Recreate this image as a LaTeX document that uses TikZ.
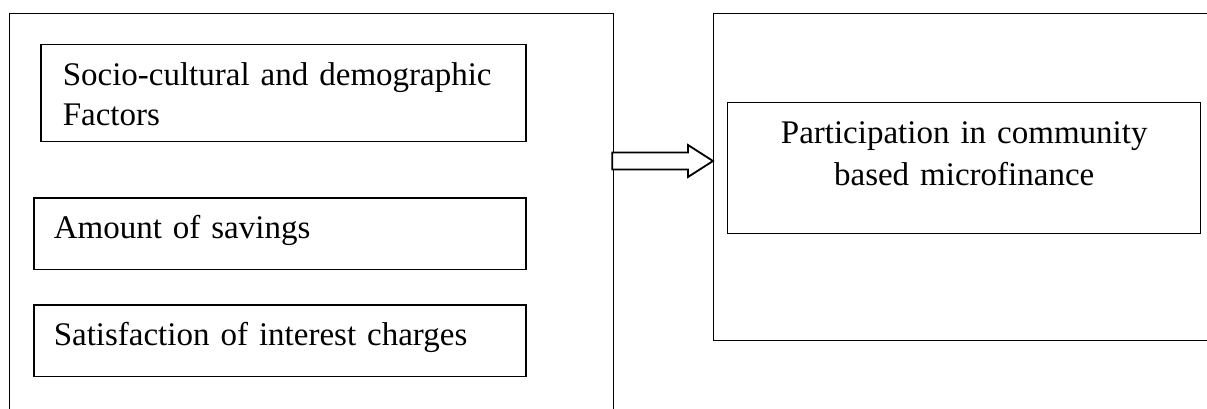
\documentclass[tikz,border=0pt]{standalone}
\usepackage{fontspec}
\setmainfont{Liberation Serif}
\usetikzlibrary{positioning,calc}

\begin{document}
\begin{tikzpicture}[
    x=1pt, y=1pt,
    % 外框样式
    outer style/.style={
        rectangle,           % 矩形
        draw,                % 绘制边框
        line width=1.2pt,    % 细线
        inner sep=0pt,       % 内部填充为0
        anchor=north west    % 左上角定位
    },
    % 因素框样式
    factor style/.style={
        rectangle,           % 矩形
        draw,
        line width=1.5pt,
        anchor=north west,
        align=left,          % 左对齐
        inner ysep=17.5pt,
        text height=23pt,
        font=\fontsize{33}{40}\selectfont
    },
    % 结果框样式
    result style/.style={
        rectangle,
        draw,
        line width=1.4pt,
        anchor=north west,
        align=center,        % 居中
        inner ysep=17.5pt,
        text height=23pt,
        font=\fontsize{33}{42}\selectfont
    },
    % 空心箭头样式
    block arrow style/.style={
        draw,
        fill=white,
        line width=1.8pt,
        line join=miter
    }
]

% 画布范围
\clip (0,0) rectangle (1207,408);

% 左侧外框 (下边超出画面)
\node[outer style, minimum width=604pt, minimum height=415pt] (context) at (9,395) {};
% 右侧外框 (右边超出画面)
\node[outer style, minimum width=517pt, minimum height=327pt] (frame) at (713,395) {};

% 自变量
\node[factor style, text width=441pt, inner xsep=22pt, text depth=38.5pt] (socio) at (40,364)
    {Socio-cultural and demographic\\Factors};
\node[factor style, text width=452pt, inner xsep=20pt, text depth=13.5pt] (savings) at (33,211)
    {Amount of savings};
\node[factor style, text width=452pt, inner xsep=20pt, text depth=13.5pt, below=34pt of savings] (interest)
    {Satisfaction of interest charges};

% 因变量
\node[result style, text width=433pt, inner xsep=20pt, text depth=72.5pt] (participation) at (727,306)
    {Participation in community\\based microfinance};

% 箭头
\coordinate (level) at (0,247);
\coordinate (tail) at (context.east |- level);
\coordinate (tip) at (frame.west |- level);
\draw[block arrow style] ([xshift=-2pt,yshift=8.5pt]tail) -- ([xshift=-25pt,yshift=8.5pt]tip)
    -- ([xshift=-25pt,yshift=16pt]tip) -- (tip) -- ([xshift=-25pt,yshift=-16pt]tip)
    -- ([xshift=-25pt,yshift=-8.5pt]tip) -- ([xshift=-2pt,yshift=-8.5pt]tail) -- cycle;

\end{tikzpicture}
\end{document}
